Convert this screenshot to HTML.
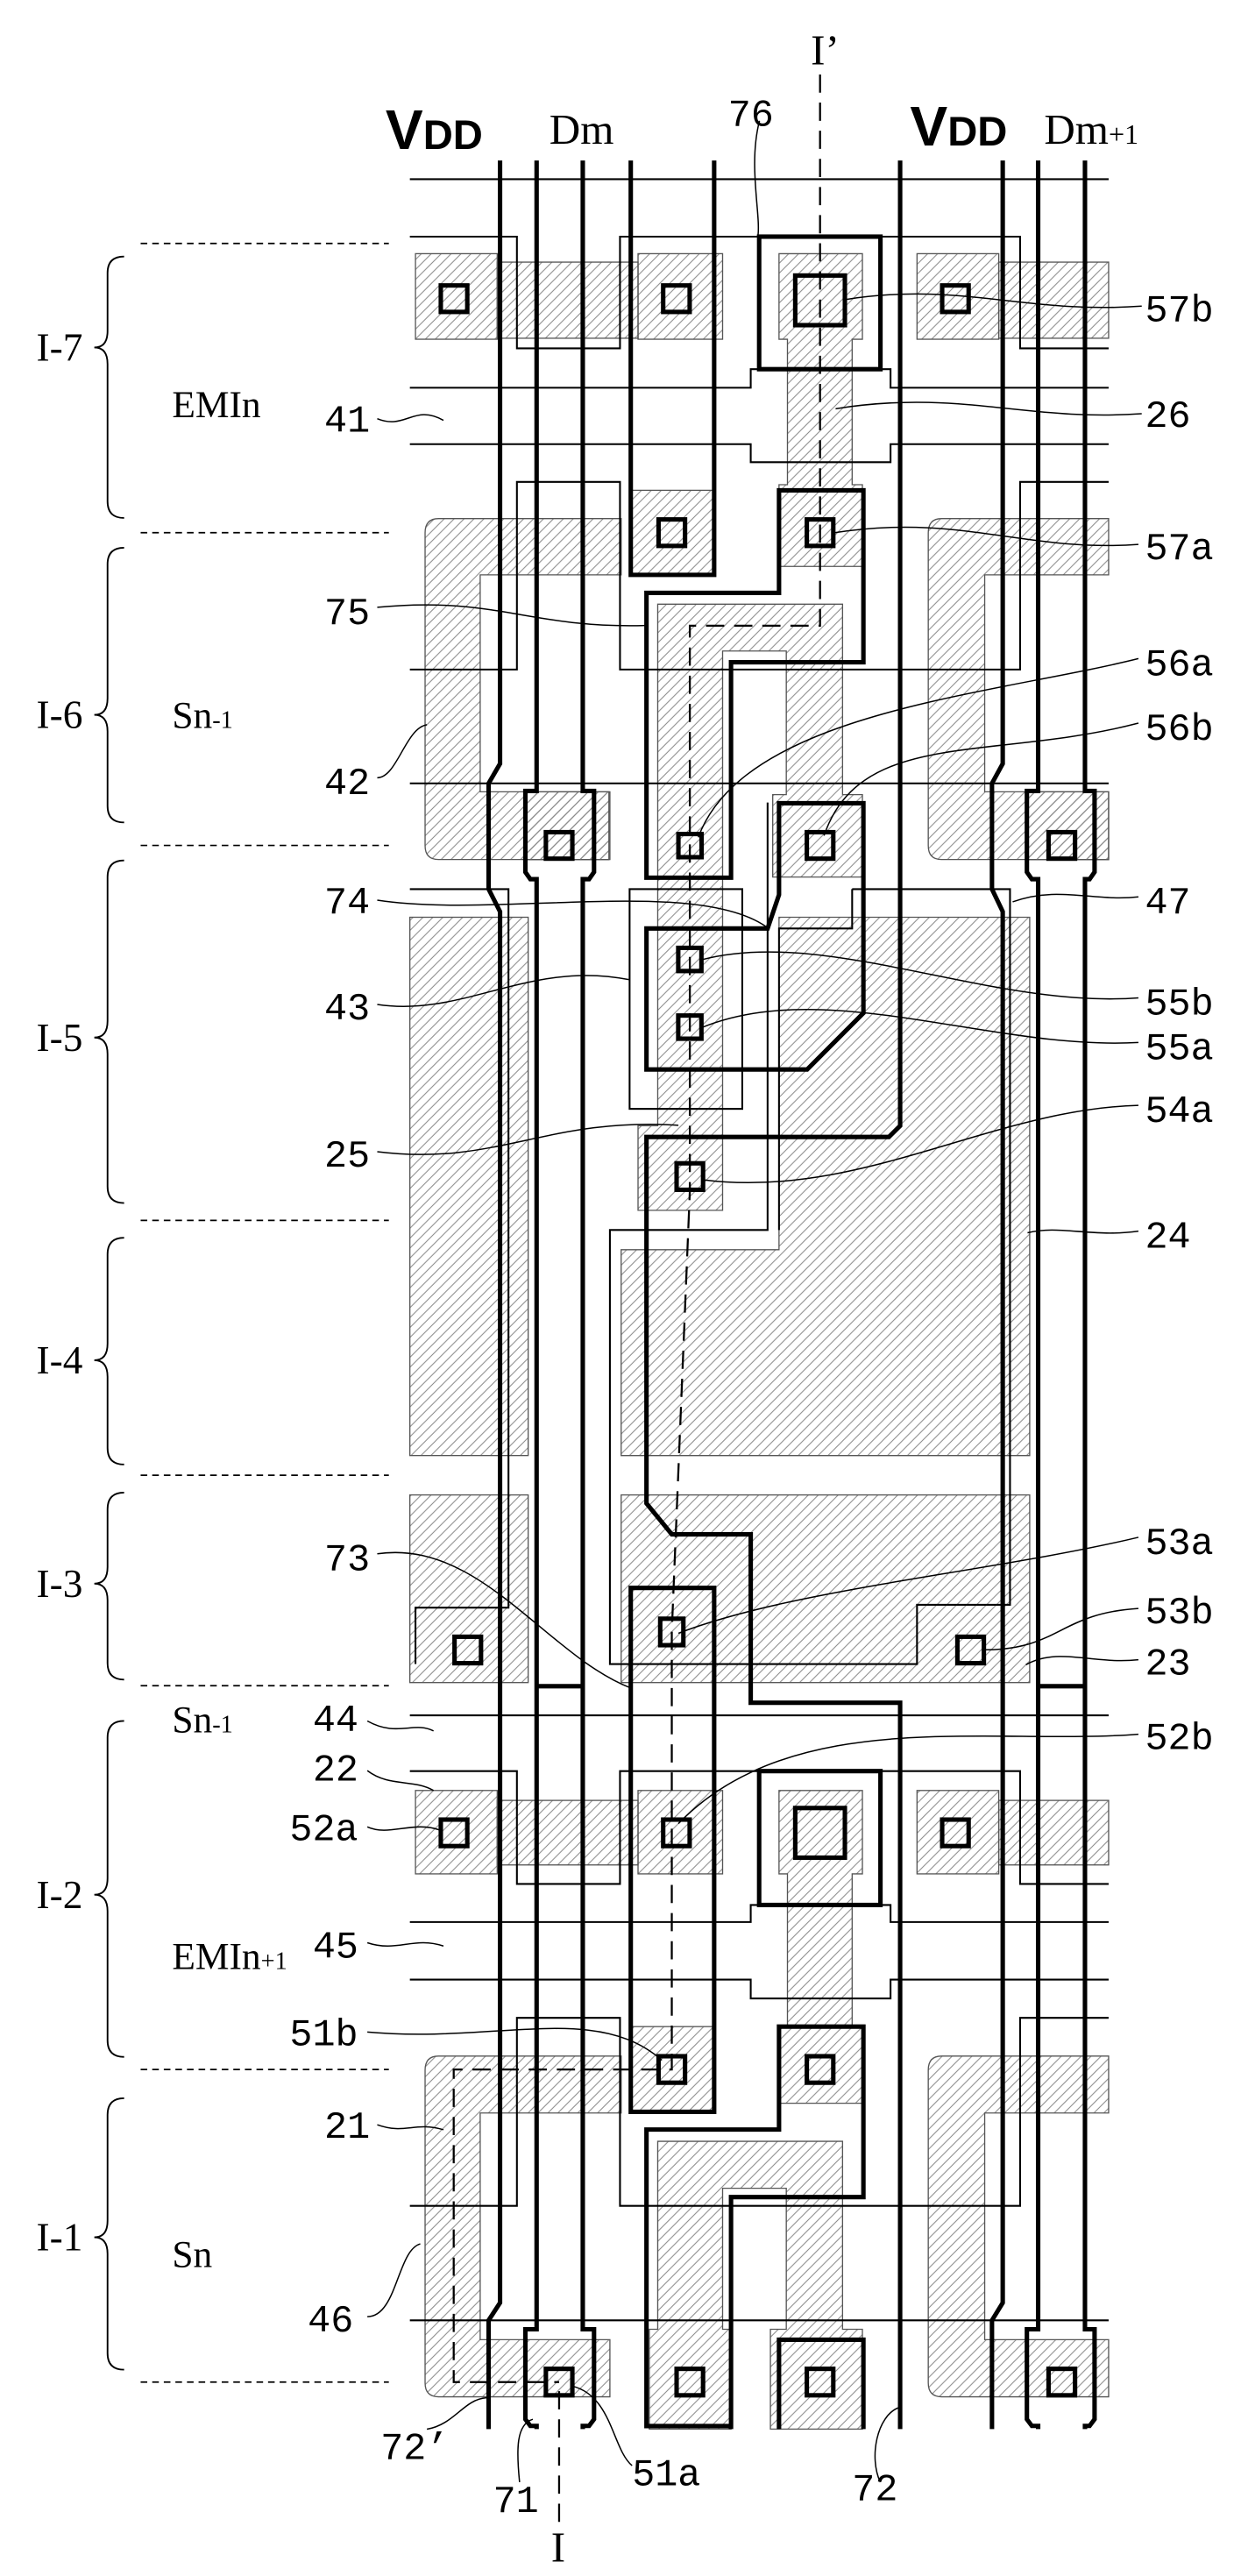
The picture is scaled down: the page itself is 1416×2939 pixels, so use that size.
<!DOCTYPE html>
<html><head><meta charset="utf-8"><style>
html,body{margin:0;padding:0;background:#fff;}
svg{display:block;}
text{font-family:"Liberation Mono","DejaVu Sans Mono",monospace;fill:#000;}
</style></head><body>
<svg width="1416" height="2939" viewBox="0 0 750 1556.7" preserveAspectRatio="none" xmlns="http://www.w3.org/2000/svg">
<defs>
<pattern id="h" patternUnits="userSpaceOnUse" width="6" height="6">
<path d="M0,6 L6,0 M-1,1 L1,-1 M5,7 L7,5" stroke="#8a8a8a" stroke-width="0.55"/>
</pattern>
</defs>
<rect width="750" height="1556.7" fill="#fff"/>

<!-- hatched regions -->
<g fill="url(#h)" stroke="#555" stroke-width="0.7">
<!-- I-7 row -->
<rect x="251.1" y="153.3" width="49.4" height="51.7"/>
<rect x="300.5" y="158.4" width="85.1" height="46"/>
<rect x="385.6" y="153.3" width="51.1" height="51.7"/>
<path d="M470.8,153.3 H521.2 V205 H515 V292.9 H521.2 V342.3 H470.8 V292.9 H475.9 V205 H470.8 Z"/>
<rect x="554.2" y="153.3" width="49.4" height="51.7"/>
<rect x="603.6" y="158.4" width="66.4" height="46"/>
<rect x="381.2" y="296.3" width="50.4" height="51.1"/>
<!-- I-6 rounded -->
<path d="M265,313.4 H375.4 V347.4 H290.2 V478.5 H368.6 V519.4 H265 Q256.9,519.4 256.9,511 V322 Q256.9,313.4 265,313.4 Z"/>
<path d="M569,313.4 H670 V347.4 H595.1 V478.5 H670 V519.4 H569 Q561,519.4 561,511 V322 Q561,313.4 569,313.4 Z"/>
<rect x="318" y="478.5" width="50" height="41"/>
<rect x="620.6" y="478.5" width="49.4" height="41"/>
<!-- 25 structure -->
<path d="M397.5,365.1 H509.2 V480.2 H521.2 V530 H467 V480.2 H475.2 V393.4 H436.7 V731.4 H385.6 V680.3 H397.5 Z"/>
<!-- 24 -->
<path d="M470.8,554.3 H622.3 V879.6 H375.4 V755.2 H470.8 Z"/>
<rect x="375.4" y="903.4" width="246.9" height="113.4"/>
<rect x="247.7" y="554.3" width="71.5" height="325.3"/>
<rect x="247.7" y="903.4" width="71.5" height="113.4"/>
<!-- I-2 row -->
<rect x="251.1" y="1082" width="49.4" height="50.4"/>
<rect x="300.5" y="1088" width="85.1" height="39"/>
<rect x="385.6" y="1082" width="51.1" height="50.4"/>
<path d="M470.8,1082 H521.2 V1132.4 H515 V1224.7 H521.2 V1271 H470.8 V1224.7 H475.9 V1132.4 H470.8 Z"/>
<rect x="554.2" y="1082" width="49.4" height="50.4"/>
<rect x="603.6" y="1088" width="66.4" height="39"/>
<rect x="381.2" y="1224.7" width="50.4" height="51.5"/>
<!-- I-1 rounded -->
<path d="M265,1242.5 H375.4 V1276.9 H290.2 V1413.9 H368.6 V1448.4 H265 Q256.9,1448.4 256.9,1440 V1251 Q256.9,1242.5 265,1242.5 Z"/>
<path d="M569,1242.5 H670 V1276.9 H595.1 V1413.9 H670 V1448.4 H569 Q561,1448.4 561,1440 V1251 Q561,1242.5 569,1242.5 Z"/>
<path d="M397.5,1294 H509.2 V1407.6 H521.2 V1467.9 H465.6 V1407.6 H475.2 V1322.4 H436.7 V1407.6 H441.8 V1467.9 H392.4 V1407.6 H397.5 Z"/>
</g>

<!-- thin lines -->
<g fill="none" stroke="#000" stroke-width="1.1">
<path d="M247.7,108.3 H670"/>
<path d="M247.7,143 H312.4 V210.5 H374.7 V143 H616.5 V210.5 H670"/>
<path d="M247.7,234.3 H453.7 V223.1 H538.2 V234.3 H670"/>
<path d="M247.7,268.4 H453.7 V279.3 H538.2 V268.4 H670"/>
<path d="M247.7,404.6 H312.4 V291.2 H374.7 V404.6 H616.5 V291.2 H670"/>
<path d="M247.7,473.4 H670"/>
<path d="M247.7,537.3 H307.3 V971.5 H251.1 V1005.6"/>
<path d="M515,537.3 H610.4 V969.8 H554.2 V1005.6 H368.6 V743.3 H463.9 V485"/>
<path d="M515,537.3 V561.1 H470.8 V743.3"/>
<rect x="380.5" y="537.3" width="68.1" height="132.8"/>
<path d="M247.7,1036.6 H670"/>
<path d="M247.7,1070.3 H312.4 V1138.5 H374.7 V1070.3 H616.5 V1138.5 H670"/>
<path d="M247.7,1161.5 H453.7 V1151.2 H538.2 V1161.5 H670"/>
<path d="M247.7,1196.3 H453.7 V1207.7 H538.2 V1196.3 H670"/>
<path d="M247.7,1333 H312.4 V1219.4 H374.7 V1333 H616.5 V1219.4 H670"/>
<path d="M247.7,1402.2 H670"/>
</g>

<!-- thick lines -->
<g fill="none" stroke="#000" stroke-width="2.7" stroke-linejoin="miter">
<path d="M302.2,97 V461.5 L295.3,473.4 V537.3 L302.2,550.9 V1391.6 L295.3,1402.2 V1467.9"/>
<path d="M606,97 V461.5 L599.5,473.4 V537.3 L606,550.9 V1391.6 L599.5,1402.2 V1467.9"/>
<path d="M324.3,97 V478 H317.5 V527 L320.5,531.3 H324.3 V1407.6 H317.5 V1462 L320.5,1466 H324.3 V1467.9"/>
<path d="M352.2,97 V478 H359 V527 L356,531.3 H352.2 V1407.6 H359 V1462 L356,1466 H352.2 V1467.9"/>
<path d="M627.4,97 V478 H620.6 V527 L623.6,531.3 H627.4 V1407.6 H620.6 V1462 L623.6,1466 H627.4 V1467.9"/>
<path d="M655.7,97 V478 H661.5 V527 L658.5,531.3 H655.7 V1407.6 H661.5 V1462 L658.5,1466 H655.7 V1467.9"/>
<path d="M324.3,1019 H352.2 M627.4,1019 H655.7"/>
<path d="M381.2,97 V347.4 H431.6 V97"/>
<path d="M544,97 V680.3 L537.2,687.1 H390.7 V908.5 L406,927.2 H453.7 V1029 H544 V1467.9"/>
<rect x="458.8" y="143" width="73.3" height="80.1"/>
<path d="M441.8,530.4 V400.2 H521.8 V296.3 H470.8 V358.3 H390.7 V530.4 Z"/>
<path d="M521.8,612.2 V485.4 H470.8 V540.7 L463.9,561.1 H390.7 V646.3 H487.8 Z"/>
<rect x="381.2" y="959.6" width="50.4" height="316.6"/>
<rect x="458.8" y="1070.3" width="73.3" height="80.9"/>
<path d="M441.8,1467.9 V1327.7 H521.8 V1224.7 H470.8 V1286.9 H390.7 V1466.1 H441.8"/>
<path d="M470.8,1467.9 V1413.9 H521.8 V1467.9"/>
</g>

<!-- contacts -->
<g fill="none" stroke="#000" stroke-width="2.7">
<rect x="266.4" y="172.5" width="16" height="16"/>
<rect x="400.8" y="172.5" width="16" height="16"/>
<rect x="480.6" y="166.5" width="30" height="30"/>
<rect x="569.4" y="172.5" width="16" height="16"/>
<rect x="398" y="313.9" width="16" height="16"/>
<rect x="487.6" y="313.9" width="16" height="16"/>
<rect x="329.9" y="502.9" width="16" height="16"/>
<rect x="410" y="504" width="14" height="14"/>
<rect x="487.6" y="502.9" width="16" height="16"/>
<rect x="633.7" y="502.9" width="16" height="16"/>
<rect x="409.9" y="572.8" width="14" height="14"/>
<rect x="409.9" y="613.7" width="14" height="14"/>
<rect x="408.9" y="703" width="16" height="16"/>
<rect x="399" y="978.2" width="14" height="16"/>
<rect x="578.6" y="989.1" width="16" height="16"/>
<rect x="274.7" y="989.1" width="16" height="16"/>
<rect x="266.4" y="1099.6" width="16" height="16"/>
<rect x="400.8" y="1099.6" width="16" height="16"/>
<rect x="480.6" y="1092.6" width="30" height="30"/>
<rect x="569.4" y="1099.6" width="16" height="16"/>
<rect x="398" y="1242.6" width="16" height="16"/>
<rect x="487.6" y="1242.6" width="16" height="16"/>
<rect x="329.9" y="1431.5" width="16" height="16"/>
<rect x="408.9" y="1431.5" width="16" height="16"/>
<rect x="487.6" y="1431.5" width="16" height="16"/>
<rect x="633.7" y="1431.5" width="16" height="16"/>
</g>

<!-- dashed section lines -->
<g fill="none" stroke="#000" stroke-width="1.2" stroke-dasharray="11,6">
<path d="M495.6,45 V378.1 H416.9 V720 L406,986 V1250.6 H274.2 V1439.5 H337.9"/>
<path d="M337.9,1445 V1525"/>
</g>
<g fill="none" stroke="#000" stroke-width="0.9" stroke-dasharray="4,3">
<path d="M85,147.1 H235 M85,321.9 H235 M85,510.9 H235 M85,737.5 H235 M85,891.5 H235 M85,1018.7 H235 M85,1250.6 H235 M85,1439.5 H235"/>
</g>

<!-- braces -->
<g fill="none" stroke="#000" stroke-width="1">
<path d="M75,155 Q65,155 65,165 V200 Q65,210 57,210 Q65,210 65,220 V303 Q65,313 75,313"/>
<path d="M75,331 Q65,331 65,341 V422 Q65,432 57,432 Q65,432 65,442 V487 Q65,497 75,497"/>
<path d="M75,520 Q65,520 65,530 V617 Q65,627 57,627 Q65,627 65,637 V717 Q65,727 75,727"/>
<path d="M75,748 Q65,748 65,758 V812 Q65,822 57,822 Q65,822 65,832 V875 Q65,885 75,885"/>
<path d="M75,902 Q65,902 65,912 V947 Q65,957 57,957 Q65,957 65,967 V1005 Q65,1015 75,1015"/>
<path d="M75,1040 Q65,1040 65,1050 V1135 Q65,1145 57,1145 Q65,1145 65,1155 V1233 Q65,1243 75,1243"/>
<path d="M75,1268 Q65,1268 65,1278 V1342 Q65,1352 57,1352 Q65,1352 65,1362 V1422 Q65,1432 75,1432"/>
</g>

<!-- leaders -->
<g fill="none" stroke="#000" stroke-width="0.8">
<path d="M690,185 C620,190 580,170 511,181"/>
<path d="M690,250 C620,255 580,235 505,247"/>
<path d="M688,329 C620,334 580,310 504,322"/>
<path d="M688,398 C600,420 450,430 422,506"/>
<path d="M688,437 C600,460 520,440 498,505"/>
<path d="M688,542 C660,545 640,535 612,545"/>
<path d="M688,603 C600,610 500,560 424,580"/>
<path d="M688,630 C600,635 500,590 424,621"/>
<path d="M688,668 C600,670 520,725 425,713"/>
<path d="M688,744 C660,748 640,740 621,745"/>
<path d="M688,929 C600,950 480,960 410,987"/>
<path d="M688,972 C640,975 640,997 595,997"/>
<path d="M688,1003 C660,1006 640,995 620,1006"/>
<path d="M688,1048 C600,1055 480,1030 410,1102"/>
<path d="M228,253 C245,260 250,244 268,254"/>
<path d="M228,367 C300,360 320,380 390,378"/>
<path d="M228,470 C240,470 245,440 258,438"/>
<path d="M228,544 C300,555 420,530 463,560"/>
<path d="M228,607 C280,615 320,580 380,592"/>
<path d="M228,696 C300,705 330,675 410,680"/>
<path d="M228,939 C290,930 330,1000 381,1020"/>
<path d="M222,1040 C240,1050 250,1040 262,1046"/>
<path d="M222,1070 C235,1080 250,1075 262,1082"/>
<path d="M222,1104 C235,1110 250,1100 266,1106"/>
<path d="M222,1174 C240,1180 250,1170 268,1176"/>
<path d="M222,1228 C300,1235 360,1210 400,1245"/>
<path d="M228,1284 C245,1290 250,1282 268,1287"/>
<path d="M222,1400 C240,1400 240,1360 254,1356"/>
<path d="M258,1468 C275,1465 280,1450 294,1449"/>
<path d="M314,1500 C312,1480 312,1465 322,1462"/>
<path d="M382,1490 C370,1480 370,1448 346,1442"/>
<path d="M532,1500 C525,1485 530,1460 543,1455"/>
<path d="M459,73 C452,100 460,130 458,143"/>
</g>

<!-- labels -->
<g font-size="23">
<text x="692" y="194">57b</text>
<text x="692" y="258">26</text>
<text x="692" y="338">57a</text>
<text x="692" y="408">56a</text>
<text x="692" y="447">56b</text>
<text x="692" y="552">47</text>
<text x="692" y="613">55b</text>
<text x="692" y="640">55a</text>
<text x="692" y="678">54a</text>
<text x="692" y="754">24</text>
<text x="692" y="939">53a</text>
<text x="692" y="981">53b</text>
<text x="692" y="1012">23</text>
<text x="692" y="1057">52b</text>
<text x="196" y="261">41</text>
<text x="196" y="377">75</text>
<text x="196" y="480">42</text>
<text x="196" y="552">74</text>
<text x="196" y="616">43</text>
<text x="196" y="705">25</text>
<text x="196" y="949">73</text>
<text x="189" y="1046">44</text>
<text x="189" y="1076">22</text>
<text x="175" y="1112">52a</text>
<text x="189" y="1183">45</text>
<text x="175" y="1236">51b</text>
<text x="196" y="1292">21</text>
<text x="186" y="1409">46</text>
<text x="230" y="1486">72’</text>
<text x="298" y="1518">71</text>
<text x="382" y="1502">51a</text>
<text x="515" y="1511">72</text>
<text x="440" y="76">76</text>
</g>
<g font-family="Liberation Serif, serif" font-size="26">
<text x="332" y="87" style="font-family:'Liberation Serif',serif">Dm</text>
<text x="631" y="87" style="font-family:'Liberation Serif',serif">Dm<tspan font-size="17">+1</tspan></text>
<text x="490" y="39" style="font-family:'Liberation Serif',serif">I’</text>
<text x="333" y="1548" style="font-family:'Liberation Serif',serif">I</text>
<text x="104" y="252" style="font-family:'Liberation Serif',serif" font-size="23">EMIn</text>
<text x="104" y="440" style="font-family:'Liberation Serif',serif" font-size="23">Sn<tspan font-size="15">-1</tspan></text>
<text x="104" y="1047" style="font-family:'Liberation Serif',serif" font-size="23">Sn<tspan font-size="15">-1</tspan></text>
<text x="104" y="1190" style="font-family:'Liberation Serif',serif" font-size="23">EMIn<tspan font-size="15">+1</tspan></text>
<text x="104" y="1370" style="font-family:'Liberation Serif',serif" font-size="23">Sn</text>
<text x="22" y="218" style="font-family:'Liberation Serif',serif" font-size="24">I-7</text>
<text x="22" y="440" style="font-family:'Liberation Serif',serif" font-size="24">I-6</text>
<text x="22" y="635" style="font-family:'Liberation Serif',serif" font-size="24">I-5</text>
<text x="22" y="830" style="font-family:'Liberation Serif',serif" font-size="24">I-4</text>
<text x="22" y="965" style="font-family:'Liberation Serif',serif" font-size="24">I-3</text>
<text x="22" y="1153" style="font-family:'Liberation Serif',serif" font-size="24">I-2</text>
<text x="22" y="1360" style="font-family:'Liberation Serif',serif" font-size="24">I-1</text>
</g>
<g style="font-family:'Liberation Sans',sans-serif;font-weight:bold">
<text x="233" y="90" font-size="34" style="font-family:'Liberation Sans',sans-serif;font-weight:bold">V<tspan font-size="25">DD</tspan></text>
<text x="550" y="88" font-size="34" style="font-family:'Liberation Sans',sans-serif;font-weight:bold">V<tspan font-size="25">DD</tspan></text>
</g>
</svg>
</body></html>
